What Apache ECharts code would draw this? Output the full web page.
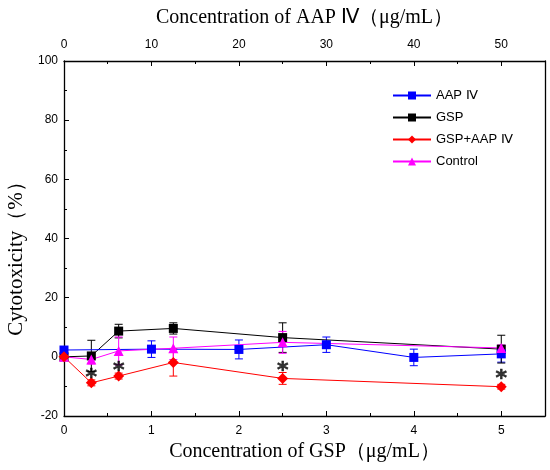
<!DOCTYPE html>
<html><head><meta charset="utf-8">
<script src="https://cdn.jsdelivr.net/npm/echarts@6/dist/echarts.min.js"></script>
<style>html,body{margin:0;padding:0;background:#fff}#c{width:550px;height:470px}</style>
</head><body><div id="c"></div>
<script>
const gspConc = [0, 0.3125, 0.625, 1.25, 2.5, 5];
const aapConc = [0, 10, 20, 30, 40, 50];
const aapVals = [2.3, 2.6, 2.5, 4.1, -0.2, 1.0];
const aapErr = [1.0, 2.8, 3.2, 2.6, 2.8, 2.8];
const gspVals = [0, 0.3, 8.7, 9.6, 6.5, 2.6];
const gspErr = [0.5, 5.3, 2.3, 1.9, 5.0, 4.7];
const comboVals = [0, -8.8, -6.5, -1.9, -7.3, -10.1];
const comboErr = [0.5, 1.0, 1.0, 4.6, 2.0, 0.8];
const controlVals = [0, -0.9, 2.0, 2.9, 4.9, 3.0];
const controlErr = [0.5, 1.5, 4.7, 3.8, 3.7, 1.0];
const starX = [0.3125, 0.625, 2.5, 5];
const starY = [-5.8, -3.4, -3.4, -6.2];
const yTicks = [-20, 0, 20, 40, 60, 80, 100];

const sans = 'Liberation Sans';
const serif = 'Liberation Serif';

function pairs(xs, ys) { return xs.map((x, i) => [x, ys[i]]); }
function errData(xs, ys, es) { return xs.map((x, i) => [x, ys[i] - es[i], ys[i] + es[i]]); }
function errSeries(xs, ys, es, color, xIdx) {
  return {
    type: 'custom', xAxisIndex: xIdx, z: 1, silent: true,
    data: errData(xs, ys, es),
    renderItem: function (params, api) {
      const lo = api.coord([api.value(0), api.value(1)]);
      const hi = api.coord([api.value(0), api.value(2)]);
      const w = 4;
      const st = { stroke: color, lineWidth: 1, fill: null };
      return { type: 'group', children: [
        { type: 'line', shape: { x1: lo[0], y1: lo[1], x2: hi[0], y2: hi[1] }, style: st },
        { type: 'line', shape: { x1: lo[0] - w, y1: lo[1], x2: lo[0] + w, y2: lo[1] }, style: st },
        { type: 'line', shape: { x1: hi[0] - w, y1: hi[1], x2: hi[0] + w, y2: hi[1] }, style: st }
      ]};
    },
    encode: { x: 0, y: [1, 2] }
  };
}
function lineSeries(name, xs, ys, color, symbol, size, xIdx) {
  return {
    name: name, type: 'line', xAxisIndex: xIdx, z: 3,
    data: pairs(xs, ys), symbol: symbol, symbolSize: size,
    showAllSymbol: true,
    lineStyle: { color: color, width: 1 },
    itemStyle: { color: color },
    emphasis: { disabled: true }
  };
}
const axisLineStyle = { show: true, onZero: false, lineStyle: { color: '#000', width: 1.3 } };

const chart = echarts.init(document.getElementById('c'), null, { renderer: 'canvas' });
chart.setOption({
  animation: false,
  backgroundColor: '#fff',
  grid: { left: 64, right: 5, top: 61, bottom: 54, containLabel: false, outerBoundsMode: 'none' },
  legend: {
    orient: 'vertical', left: 387, top: 84, itemGap: 9,
    itemWidth: 38, itemHeight: 10,
    textStyle: { fontFamily: sans, fontSize: 13, color: '#000' },
    data: ['AAP Ⅳ', 'GSP', 'GSP+AAP Ⅳ', 'Control']
  },
  xAxis: [
    {
      type: 'value', position: 'bottom', min: 0, max: 5.5, interval: 1,
      name: 'Concentration of GSP（μg/mL）', nameLocation: 'middle', nameGap: 25,
      nameTextStyle: { fontFamily: serif, fontSize: 20, color: '#000' },
      axisLine: axisLineStyle,
      axisTick: { show: true, inside: true, length: 5, lineStyle: { color: '#000' } },
      minorTick: { show: true, splitNumber: 2, length: 3, lineStyle: { color: '#000' } },
      axisLabel: { fontFamily: sans, fontSize: 12, color: '#000', margin: 9, showMaxLabel: false },
      splitLine: { show: false }
    },
    {
      type: 'value', position: 'top', min: 0, max: 55, interval: 10,
      name: 'Concentration of AAP Ⅳ（μg/mL）', nameLocation: 'middle', nameGap: 33,
      nameTextStyle: { fontFamily: serif, fontSize: 20, color: '#000' },
      axisLine: axisLineStyle,
      axisTick: { show: true, inside: true, length: 5, lineStyle: { color: '#000' } },
      minorTick: { show: true, splitNumber: 2, length: 3, lineStyle: { color: '#000' } },
      axisLabel: { fontFamily: sans, fontSize: 12, color: '#000', margin: 10, showMaxLabel: false },
      splitLine: { show: false }
    }
  ],
  yAxis: [
    {
      type: 'value', min: -20, max: 100, interval: 20,
      name: 'Cytotoxicity（%）', nameLocation: 'middle', nameGap: 36,
      nameTextStyle: { fontFamily: serif, fontSize: 21, color: '#000', padding: [0, 30, 0, 0] },
      axisLine: axisLineStyle,
      axisTick: { show: true, inside: true, length: 5, lineStyle: { color: '#000' } },
      minorTick: { show: true, splitNumber: 2, length: 3, lineStyle: { color: '#000' } },
      axisLabel: { fontFamily: sans, fontSize: 12, color: '#000', margin: 6,
        formatter: v => yTicks.includes(v) ? String(v) : '' },
      splitLine: { show: false }
    },
    {
      type: 'value', min: -20, max: 100, position: 'right',
      axisLine: axisLineStyle,
      axisTick: { show: false }, axisLabel: { show: false }, splitLine: { show: false }
    }
  ],
  series: [
    errSeries(aapConc, aapVals, aapErr, '#0000ff', 1),
    errSeries(gspConc, gspVals, gspErr, '#000000', 0),
    errSeries(gspConc, comboVals, comboErr, '#ff0000', 0),
    errSeries(gspConc, controlVals, controlErr, '#ff00ff', 0),
    lineSeries('GSP', gspConc, gspVals, '#000000', 'rect', 9, 0),
    lineSeries('AAP Ⅳ', aapConc, aapVals, '#0000ff', 'rect', 9, 1),
    lineSeries('Control', gspConc, controlVals, '#ff00ff', 'triangle', 10, 0),
    lineSeries('GSP+AAP Ⅳ', gspConc, comboVals, '#ff0000', 'diamond', 11, 0),
    {
      type: 'scatter', xAxisIndex: 0, z: 4, silent: true,
      data: pairs(starX, starY), symbolSize: 1, itemStyle: { color: 'rgba(0,0,0,0)' },
      label: { show: true, position: 'inside', formatter: '*', fontFamily: 'DejaVu Sans',
        fontWeight: 'bold', fontSize: 22, color: '#000', offset: [0, 4],
        textBorderColor: '#000', textBorderWidth: 0.6 }
    }
  ]
});
</script></body></html>
